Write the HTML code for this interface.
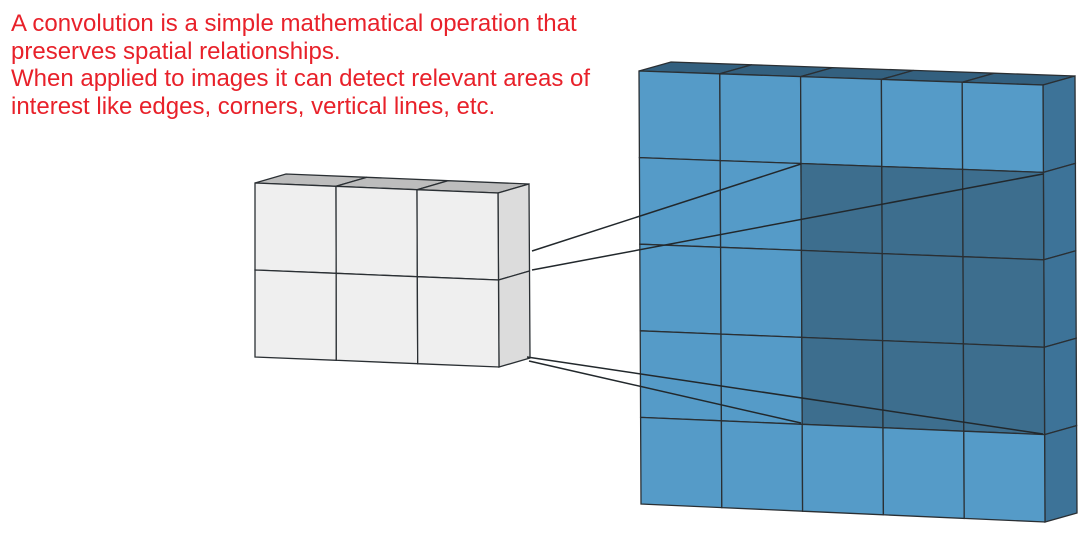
<!DOCTYPE html>
<html><head><meta charset="utf-8"><style>
html,body{margin:0;padding:0;background:#fff;width:1088px;height:541px;overflow:hidden}
#txt{position:absolute;left:11px;top:10px;color:#e8212a;font:24px/27.7px "Liberation Sans",Arial,sans-serif;white-space:pre}
svg{position:absolute;left:0;top:0}
</style></head><body>
<div id="txt">A convolution is a simple mathematical operation that
preserves spatial relationships.
When applied to images it can detect relevant areas of
interest like edges, corners, vertical lines, etc.</div>
<svg id="s" width="1088" height="541"></svg>
<script>
const NS='http://www.w3.org/2000/svg';
const svg=document.getElementById('s');
function el(tag,attrs,name){const e=document.createElementNS(NS,tag);for(const k in attrs)e.setAttribute(k,attrs[k]);


svg.appendChild(e);return e;}
function bil(q,u,v){const [tl,tr,bl,br]=q;
const top=[tl[0]+(tr[0]-tl[0])*u,tl[1]+(tr[1]-tl[1])*u],bot=[bl[0]+(br[0]-bl[0])*u,bl[1]+(br[1]-bl[1])*u];
return [top[0]+(bot[0]-top[0])*v,top[1]+(bot[1]-top[1])*v];}
function pts(a){return a.map(p=>p[0].toFixed(1)+','+p[1].toFixed(1)).join(' ');}
function block(q,cols,rows,off,fill,side,top,dark,darkFill,name){
  const st='#2a2f33';
  for(let c=0;c<cols;c++){
    const a=bil(q,c/cols,0),b=bil(q,(c+1)/cols,0);
    el('polygon',{points:pts([a,b,[b[0]+off[0],b[1]+off[1]],[a[0]+off[0],a[1]+off[1]]]),fill:top,stroke:st,'stroke-width':1.3},name+'-top-'+c);
  }
  for(let r=0;r<rows;r++){
    const a=bil(q,1,r/rows),b=bil(q,1,(r+1)/rows);
    el('polygon',{points:pts([a,[a[0]+off[0],a[1]+off[1]],[b[0]+off[0],b[1]+off[1]],b]),fill:side,stroke:st,'stroke-width':1.3},name+'-side-'+r);
  }
  for(let r=0;r<rows;r++)for(let c=0;c<cols;c++){
    const p=[bil(q,c/cols,r/rows),bil(q,(c+1)/cols,r/rows),bil(q,(c+1)/cols,(r+1)/rows),bil(q,c/cols,(r+1)/rows)];
    const d=dark&&dark(r,c);
    el('polygon',{points:pts(p),fill:d?darkFill:fill,stroke:st,'stroke-width':1.3},name+'-cell-'+r+'-'+c);
  }
}
const small=[[255,183],[498,193],[255,357],[499,367]];
block(small,3,2,[31,-9],'#efefef','#dcdcdc','#bdbdbd',null,null,'kernel');
const big=[[639,71],[1043,85],[641,504],[1045,522]];
block(big,5,5,[32,-9],'#559bc8','#3d7398','#33607f',(r,c)=>r>=1&&r<=3&&c>=2,'#3d6e8e','image');
const lines=[[[532,251],[801,164]],[[532,270],[1043,174]],[[527,357],[1043,434]],[[529,361],[801,423]]];
lines.forEach((l,i)=>el('line',{x1:l[0][0],y1:l[0][1],x2:l[1][0],y2:l[1][1],stroke:'#22282c','stroke-width':1.5},'projection-line-'+i));
</script>
</body></html>
